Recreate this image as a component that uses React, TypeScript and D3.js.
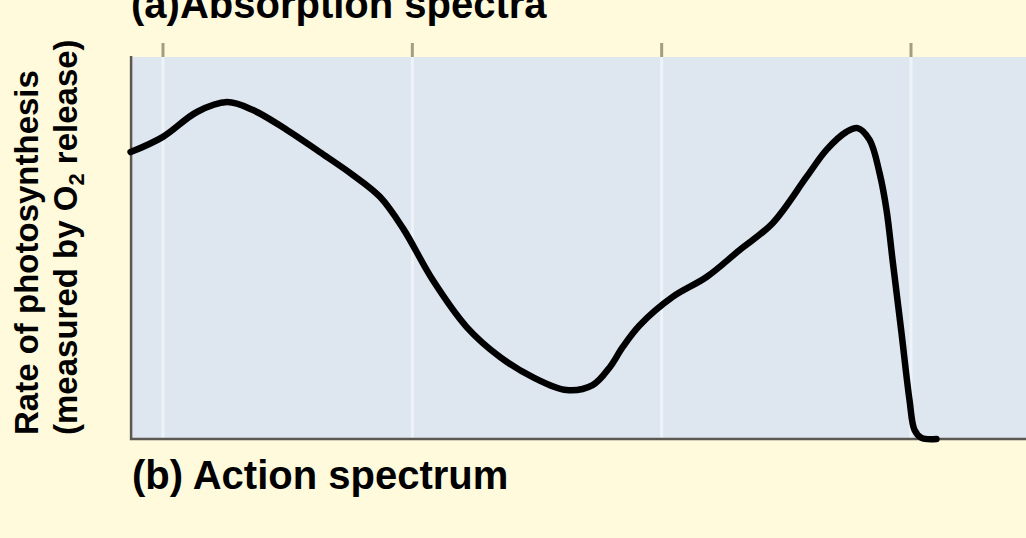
import { useEffect, useRef } from 'react';
import * as d3 from 'd3';

// wavelength (nm)
const wavelengths = [
  387, 400, 413.6, 425.7, 436.1, 449.7, 462.9, 476.2, 487, 496.2, 508.2, 521.8,
  535.1, 548.3, 561.9, 572.3, 579.2, 584.4, 591.2, 604.4, 618, 631.3, 644.5,
  658.1, 666.1, 674.1, 678.6, 683.4, 687.4, 690.2, 692.6, 696.2, 699.4, 701.4,
  704.2, 710.2,
];
// rate of photosynthesis (relative, 0-100)
const rates = [
  75.1, 79.1, 85.6, 88.2, 86.1, 80.9, 75.1, 69.1, 63.4, 55.2, 41.6, 29.3,
  21.5, 16.2, 12.8, 14.1, 18.8, 24.1, 29.8, 37.2, 42.4, 49.5, 56.5,
  68.6, 75.7, 80.4, 81.4, 78.3, 69.6, 59.9, 46.9, 27.7, 10.2, 2.4,
  0.3, 0,
];
const gridTicks = [400, 500, 600, 700];

const title = '(a)Absorption spectra';
const bottomLabel = '(b) Action spectrum';

const App = () => {
  const svgRef = useRef<SVGSVGElement | null>(null);

  useEffect(() => {
    if (!svgRef.current) return;
    const width = 1026;
    const height = 538;
    const svg = d3.select(svgRef.current);
    svg.selectAll('*').remove();
    svg.attr('width', width).attr('height', height);

    const font = '"Liberation Sans", Arial, Helvetica, sans-serif';

    const x = d3.scaleLinear().domain([400, 700]).range([163, 911]);
    const y = d3.scaleLinear().domain([0, 100]).range([439, 57]);
    const xLeft = x(387.2);
    const xRight = width + 10;

    svg.append('rect')
      .attr('width', width).attr('height', height)
      .attr('fill', '#fffadc');

    // plot panel
    svg.append('rect')
      .attr('x', xLeft).attr('y', y(100))
      .attr('width', xRight - xLeft).attr('height', y(0) - y(100))
      .attr('fill', '#dee6ef');

    // light vertical grid lines
    svg.selectAll('line.grid')
      .data(gridTicks)
      .enter()
      .append('line')
      .attr('class', 'grid')
      .attr('x1', d => x(d)).attr('x2', d => x(d))
      .attr('y1', y(100)).attr('y2', y(0))
      .attr('stroke', '#eef3f9')
      .attr('stroke-width', 3);

    // ticks above the panel
    svg.selectAll('line.tick')
      .data(gridTicks)
      .enter()
      .append('line')
      .attr('class', 'tick')
      .attr('x1', d => x(d)).attr('x2', d => x(d))
      .attr('y1', y(100) - 14).attr('y2', y(100))
      .attr('stroke', '#a39d84')
      .attr('stroke-width', 3);

    // axes (left + bottom)
    svg.append('path')
      .attr('d', `M${xLeft},${y(100) - 1}V${y(0)}H${xRight}`)
      .attr('fill', 'none')
      .attr('stroke', '#5a5850')
      .attr('stroke-width', 2.5);

    const points: [number, number][] = wavelengths.map((w, i) => [w, rates[i]]);
    const line = d3.line<[number, number]>()
      .x(d => x(d[0]))
      .y(d => y(d[1]))
      .curve(d3.curveCatmullRom.alpha(0.5));

    svg.append('path')
      .datum(points)
      .attr('d', line)
      .attr('fill', 'none')
      .attr('stroke', '#000')
      .attr('stroke-width', 6.5)
      .attr('stroke-linecap', 'round')
      .attr('stroke-linejoin', 'round');

    // titles
    svg.append('text')
      .attr('x', 131).attr('y', 18)
      .attr('font-family', font).attr('font-weight', 'bold')
      .attr('font-size', 40)
      .attr('fill', '#000')
      .text(title);

    svg.append('text')
      .attr('x', 132).attr('y', 489)
      .attr('font-family', font).attr('font-weight', 'bold')
      .attr('font-size', 40)
      .attr('fill', '#000')
      .text(bottomLabel);

    // y label, two rotated lines
    svg.append('text')
      .attr('transform', 'translate(38,435) rotate(-90)')
      .attr('font-family', font).attr('font-weight', 'bold')
      .attr('font-size', 33)
      .attr('fill', '#000')
      .text('Rate of photosynthesis');

    const l2 = svg.append('text')
      .attr('transform', 'translate(77,435) rotate(-90)')
      .attr('font-family', font).attr('font-weight', 'bold')
      .attr('font-size', 33)
      .attr('fill', '#000');
    l2.append('tspan').text('(measured by O');
    l2.append('tspan').attr('font-size', 22).attr('dy', 7).text('2');
    l2.append('tspan').attr('dy', -7).text(' release)');
  }, []);

  return (
    <svg ref={svgRef} style={{ position: 'absolute', left: 0, top: 0 }}></svg>
  );
};

export default App;
